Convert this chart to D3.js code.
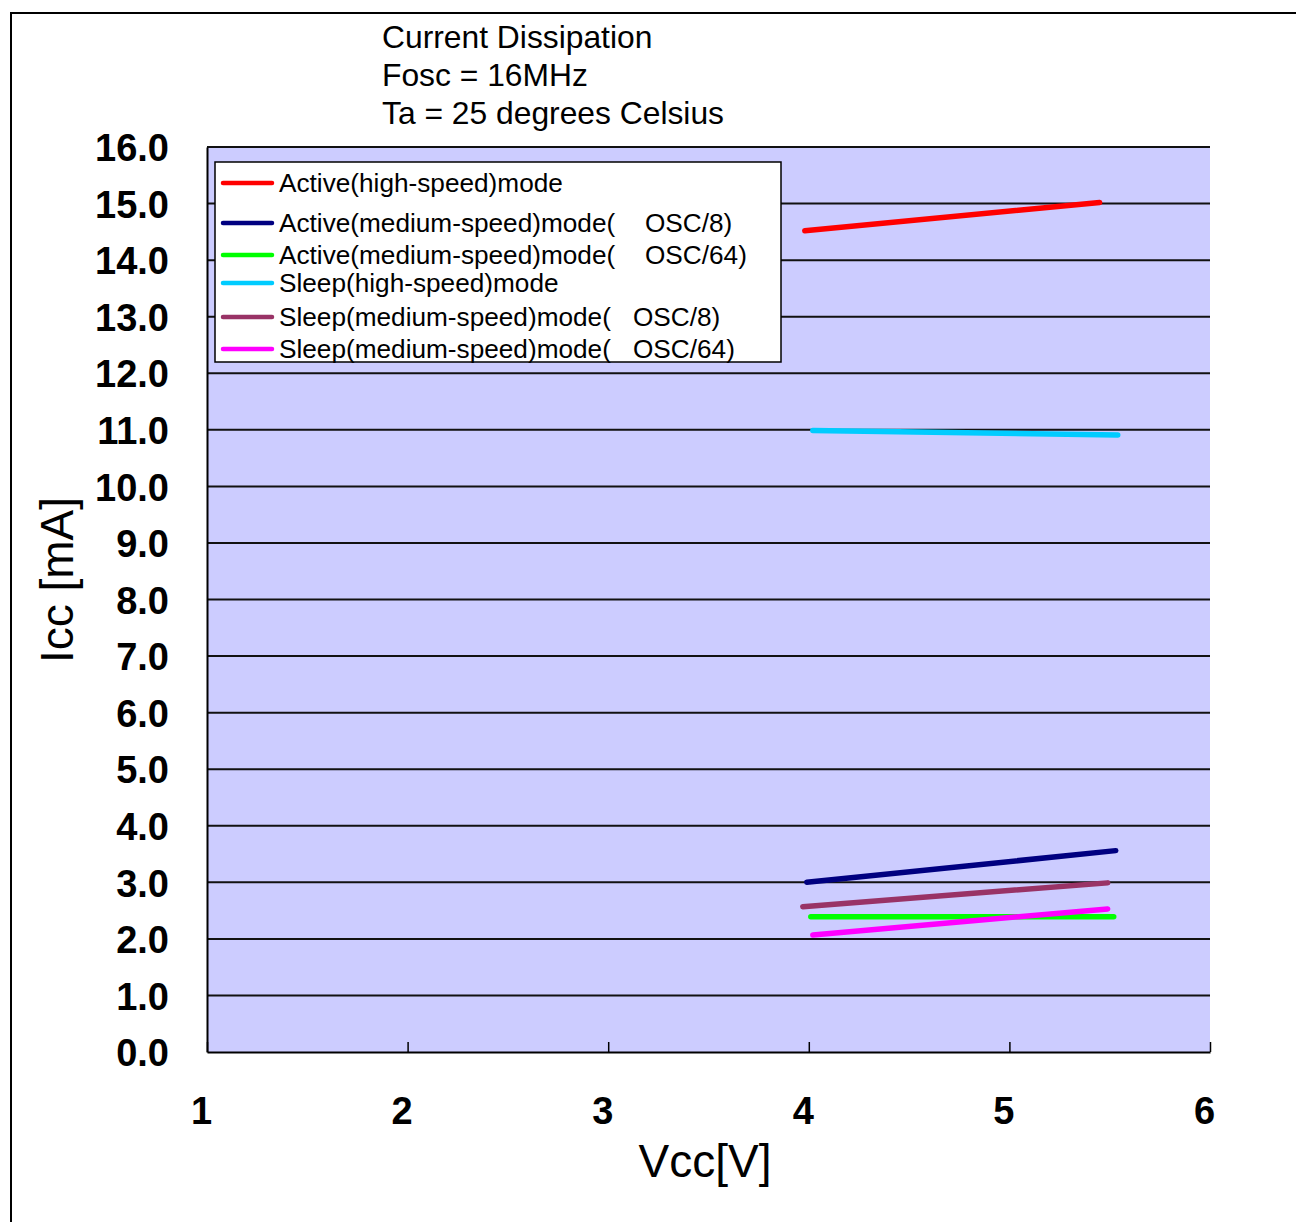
<!DOCTYPE html>
<html>
<head>
<meta charset="utf-8">
<script src="https://cdn.jsdelivr.net/npm/d3@7"></script>
<style>
  html, body { margin: 0; padding: 0; background: #fff; }
  svg { display: block; }
  text { font-family: "Liberation Sans", Arial, sans-serif; fill: #000; }
</style>
</head>
<body>
<svg id="chart" width="1296" height="1222"></svg>
<script>
// ---------- data ----------
const titleLines = ["Current Dissipation", "Fosc = 16MHz", "Ta = 25 degrees Celsius"];
const xTicks = [1, 2, 3, 4, 5, 6];
const yTicks = [0, 1, 2, 3, 4, 5, 6, 7, 8, 9, 10, 11, 12, 13, 14, 15, 16];
const xLabel = "Vcc[V]";
const yLabel = "Icc [mA]";

const seriesNames = [
  ["Active(high-speed)mode", ""],
  ["Active(medium-speed)mode(", "OSC/8)"],
  ["Active(medium-speed)mode(", "OSC/64)"],
  ["Sleep(high-speed)mode", ""],
  ["Sleep(medium-speed)mode(", "OSC/8)"],
  ["Sleep(medium-speed)mode(", "OSC/64)"]
];
const seriesColors = ["#ff0000", "#000080", "#00ff00", "#00ccff", "#993366", "#ff00ff"];
const activeHigh   = [[3.98, 14.52], [5.45, 15.02]];
const activeMed8   = [[3.99, 3.00], [5.53, 3.56]];
const activeMed64  = [[4.01, 2.39], [5.52, 2.39]];
const sleepHigh    = [[4.02, 10.99], [5.54, 10.91]];
const sleepMed8    = [[3.97, 2.57], [5.49, 2.99]];
const sleepMed64   = [[4.02, 2.07], [5.49, 2.53]];
const seriesData = [activeHigh, activeMed8, activeMed64, sleepHigh, sleepMed8, sleepMed64];

// ---------- layout ----------
const svg = d3.select("#chart");
const plot = { left: 207, right: 1210, top: 147, bottom: 1052 };

const x = d3.scaleLinear().domain([1, 6]).range([plot.left, plot.right]);
const y = d3.scaleLinear().domain([0, 16]).range([plot.bottom, plot.top]);

// outer frame
svg.append("path")
  .attr("d", "M11,1222 L11,13 L1296,13")
  .attr("fill", "none").attr("stroke", "#000").attr("stroke-width", 2);

// plot background
svg.append("rect")
  .attr("x", plot.left).attr("y", plot.top)
  .attr("width", plot.right - plot.left).attr("height", plot.bottom - plot.top)
  .attr("fill", "#ccccff");

// gridlines
svg.append("g").selectAll("line").data(yTicks.filter(d => d > 0)).join("line")
  .attr("x1", plot.left).attr("x2", plot.right)
  .attr("y1", d => y(d)).attr("y2", d => y(d))
  .attr("stroke", "#111").attr("stroke-width", 2);

// y axis
const yAxis = d3.axisLeft(y).tickValues(yTicks).tickFormat(d3.format(".1f")).tickSize(0).tickPadding(38);
const gy = svg.append("g").attr("transform", `translate(${plot.left},0)`).call(yAxis);
gy.select(".domain").attr("stroke", "#000").attr("stroke-width", 2);
gy.selectAll("text").attr("font-size", 38).attr("font-weight", "bold")
  .attr("font-family", "Liberation Sans, Arial, sans-serif").attr("dy", "0.36em");

// x axis (ticks inside)
const xAxis = d3.axisBottom(x).tickValues(xTicks).tickFormat(d3.format("d")).tickSizeInner(-10).tickSizeOuter(0).tickPadding(0);
const gx = svg.append("g").attr("transform", `translate(0,${plot.bottom})`).call(xAxis);
gx.select(".domain").attr("stroke", "#000").attr("stroke-width", 2);
gx.selectAll(".tick line").attr("stroke", "#000").attr("stroke-width", 1.5);
gx.selectAll("text").attr("font-size", 38).attr("font-weight", "bold")
  .attr("font-family", "Liberation Sans, Arial, sans-serif")
  .attr("dx", -6).attr("y", 58).attr("dy", "0.36em");

// series lines
const line = d3.line().x(d => x(d[0])).y(d => y(d[1]));
svg.append("g").selectAll("path").data(seriesData).join("path")
  .attr("d", line)
  .attr("fill", "none")
  .attr("stroke", (d, i) => seriesColors[i])
  .attr("stroke-width", 5.5)
  .attr("stroke-linecap", "round");

// legend
const legend = svg.append("g");
legend.append("rect")
  .attr("x", 215).attr("y", 162).attr("width", 566).attr("height", 200)
  .attr("fill", "#fff").attr("stroke", "#000").attr("stroke-width", 1.5);
const legendY = [183, 223, 255, 283, 317, 349];
const osxX = [0, 645, 645, 0, 633, 633];
const items = legend.selectAll("g.item").data(seriesNames).join("g").attr("class", "item")
  .attr("transform", (d, i) => `translate(0,${legendY[i]})`);
items.append("line")
  .attr("x1", 223).attr("x2", 272).attr("y1", 0).attr("y2", 0)
  .attr("stroke", (d, i) => seriesColors[i]).attr("stroke-width", 4.5).attr("stroke-linecap", "round");
items.append("text")
  .attr("x", 279).attr("y", 0).attr("dy", "0.36em").attr("font-size", 26.2)
  .text(d => d[0]);
items.append("text")
  .attr("x", (d, i) => osxX[i]).attr("y", 0).attr("dy", "0.36em").attr("font-size", 26.2)
  .text(d => d[1]);

// titles
svg.append("g").selectAll("text").data(titleLines).join("text")
  .attr("x", 382).attr("y", (d, i) => 37 + i * 38).attr("dy", "0.36em")
  .attr("font-size", 31.8).text(d => d);

// axis labels
svg.append("text")
  .attr("x", 705).attr("y", 1160).attr("dy", "0.36em")
  .attr("text-anchor", "middle").attr("font-size", 46).text(xLabel);
svg.append("text")
  .attr("transform", "translate(56,580) rotate(-90)")
  .attr("dy", "0.36em").attr("text-anchor", "middle").attr("font-size", 46).text(yLabel);
</script>
</body>
</html>
